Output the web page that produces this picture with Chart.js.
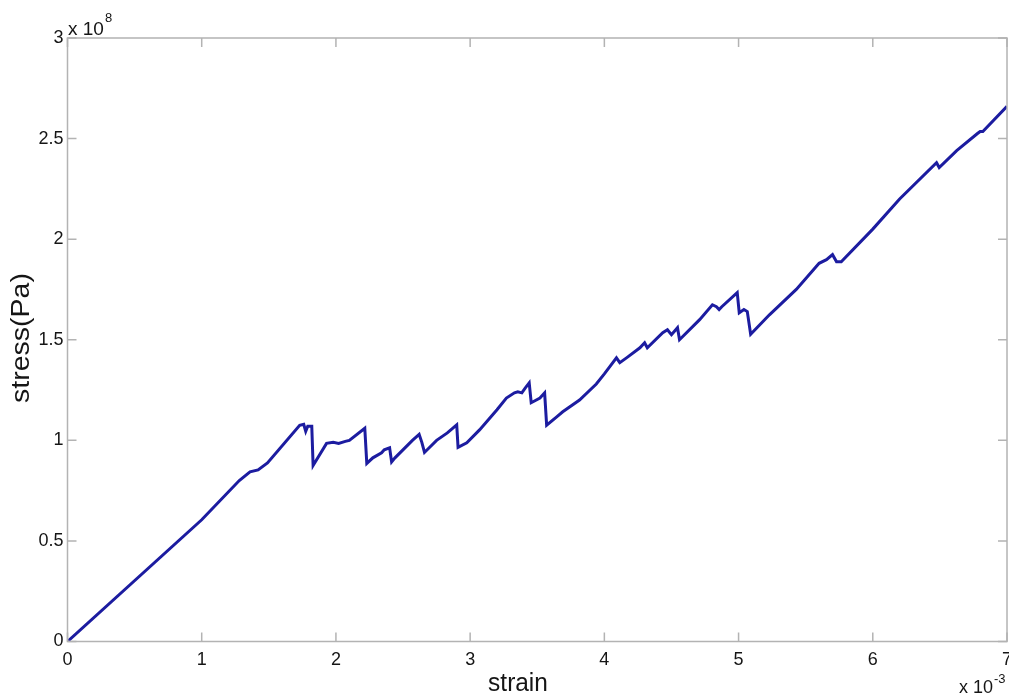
<!DOCTYPE html>
<html>
<head>
<meta charset="utf-8">
<title>stress-strain</title>
<script src="https://cdn.jsdelivr.net/npm/chart.js@4.4.0/dist/chart.umd.min.js"></script>
<style>
  html, body { margin: 0; padding: 0; background: #fff; }
  #wrap { width: 1009px; height: 699px; }
</style>
</head>
<body>
<div id="wrap"><canvas id="stressChart" width="1009" height="699"></canvas></div>
<script>
// strain in units of 1e-3, stress in units of 1e8 Pa
const strain = [
  0, 1.0, 1.28, 1.36, 1.42, 1.49,
  1.73, 1.76, 1.775, 1.79, 1.82, 1.83,
  1.93, 1.98, 2.02, 2.07, 2.10, 2.215, 2.23,
  2.275, 2.34, 2.36, 2.40, 2.415,
  2.44, 2.57, 2.62, 2.64, 2.66, 2.68, 2.75, 2.83, 2.90, 2.91,
  2.975, 3.07, 3.20, 3.27, 3.33, 3.355, 3.385, 3.41, 3.44, 3.455,
  3.52, 3.555, 3.57,
  3.645, 3.69, 3.815, 3.94, 4.0, 4.09, 4.115, 4.165, 4.265, 4.30, 4.32,
  4.435, 4.47, 4.50, 4.545, 4.56,
  4.71, 4.805, 4.835, 4.855, 4.875, 4.99, 5.005, 5.04, 5.065, 5.09,
  5.23, 5.43, 5.60, 5.655, 5.70, 5.73, 5.765,
  6.0, 6.2, 6.475, 6.495, 6.625, 6.78, 6.80, 6.82, 7.0
];
const stress = [
  0, 0.605, 0.80, 0.843, 0.853, 0.888,
  1.075, 1.08, 1.045, 1.07, 1.07, 0.875,
  0.985, 0.99, 0.985, 0.995, 1.0, 1.06, 0.885,
  0.913, 0.938, 0.953, 0.963, 0.893,
  0.913, 1.0, 1.03, 0.99, 0.94, 0.953, 1.0, 1.037, 1.077, 0.965,
  0.988, 1.052, 1.152, 1.21, 1.236, 1.241, 1.236, 1.26, 1.286, 1.187,
  1.21, 1.236, 1.075,
  1.117, 1.142, 1.20, 1.28, 1.33, 1.41, 1.386, 1.41, 1.46, 1.485, 1.46,
  1.535, 1.55, 1.525, 1.56, 1.50,
  1.60, 1.674, 1.664, 1.65, 1.664, 1.734, 1.634, 1.65, 1.64, 1.527,
  1.624, 1.75, 1.88, 1.898, 1.923, 1.888, 1.888,
  2.05, 2.2, 2.38, 2.356, 2.44, 2.525, 2.535, 2.535, 2.66
];
const strainTicks = [0, 1, 2, 3, 4, 5, 6, 7];
const stressTicks = [0, 0.5, 1, 1.5, 2, 2.5, 3];

const points = strain.map((s, i) => ({ x: s, y: stress[i] }));

const FONT = '"Liberation Sans", Arial, Helvetica, sans-serif';
const AXIS_GRAY = '#b3b3b3';
const LINE_BLUE = '#1c1ca0';
const TEXT = '#151515';

// box frame with inward ticks on all sides, axis labels and the exponent notes
const axesBox = {
  id: 'axesBox',
  afterDraw(chart) {
    const { ctx, chartArea: a, scales: { x, y } } = chart;
    ctx.save();
    ctx.strokeStyle = AXIS_GRAY;
    ctx.lineWidth = 1.5;
    ctx.strokeRect(a.left, a.top, a.right - a.left, a.bottom - a.top);
    ctx.beginPath();
    x.ticks.forEach(t => {
      const px = x.getPixelForValue(t.value);
      ctx.moveTo(px, a.bottom); ctx.lineTo(px, a.bottom - 9);
      ctx.moveTo(px, a.top); ctx.lineTo(px, a.top + 9);
    });
    y.ticks.forEach(t => {
      const py = y.getPixelForValue(t.value);
      ctx.moveTo(a.left, py); ctx.lineTo(a.left + 9, py);
      ctx.moveTo(a.right, py); ctx.lineTo(a.right - 9, py);
    });
    ctx.stroke();

    ctx.fillStyle = TEXT;
    ctx.textBaseline = 'alphabetic';
    ctx.textAlign = 'center';

    // axis titles, slightly stretched like the exported figure
    ctx.save();
    ctx.translate(518, 691);
    ctx.scale(0.94, 1);
    ctx.font = `26px ${FONT}`;
    ctx.fillText('strain', 0, 0);
    ctx.restore();

    ctx.save();
    ctx.translate(29, 338);
    ctx.rotate(-Math.PI / 2);
    ctx.scale(1.14, 1);
    ctx.font = `25px ${FONT}`;
    ctx.fillText('stress(Pa)', 0, 0);
    ctx.restore();

    // exponent notes
    ctx.textAlign = 'left';
    ctx.font = `19px ${FONT}`;
    ctx.fillText('x 10', 68, 35);
    let w = ctx.measureText('x 10').width;
    ctx.font = `13px ${FONT}`;
    ctx.fillText('8', 68 + w + 1, 22);

    ctx.font = `18px ${FONT}`;
    ctx.fillText('x 10', 959, 693);
    w = ctx.measureText('x 10').width;
    ctx.font = `13px ${FONT}`;
    ctx.fillText('-3', 959 + w + 1, 683);
    ctx.restore();
  }
};

new Chart(document.getElementById('stressChart'), {
  type: 'scatter',
  data: {
    datasets: [{
      data: points,
      showLine: true,
      borderColor: LINE_BLUE,
      borderWidth: 3,
      pointRadius: 0,
      tension: 0,
      fill: false
    }]
  },
  options: {
    responsive: false,
    animation: false,
    layout: { padding: { top: 38, right: 2, left: 0, bottom: 0 } },
    plugins: { legend: { display: false }, tooltip: { enabled: false } },
    scales: {
      x: {
        type: 'linear',
        min: 0,
        max: 7,
        afterBuildTicks: s => { s.ticks = strainTicks.map(v => ({ value: v })); },
        grid: { display: false, drawTicks: false },
        border: { display: false },
        ticks: {
          color: TEXT,
          font: { family: FONT, size: 18 },
          padding: 8,
          maxRotation: 0,
          callback: v => String(v)
        },
        afterFit(s) { s.height = 57.5; s.paddingLeft = 0; s.paddingRight = 0; }
      },
      y: {
        type: 'linear',
        min: 0,
        max: 3,
        afterBuildTicks: s => { s.ticks = stressTicks.map(v => ({ value: v })); },
        grid: { display: false, drawTicks: false },
        border: { display: false },
        ticks: {
          color: TEXT,
          font: { family: FONT, size: 18 },
          padding: 4,
          callback: v => String(v)
        },
        afterFit(s) { s.width = 67.5; s.paddingTop = 0; s.paddingBottom = 0; }
      }
    }
  },
  plugins: [axesBox]
});
</script>
</body>
</html>
